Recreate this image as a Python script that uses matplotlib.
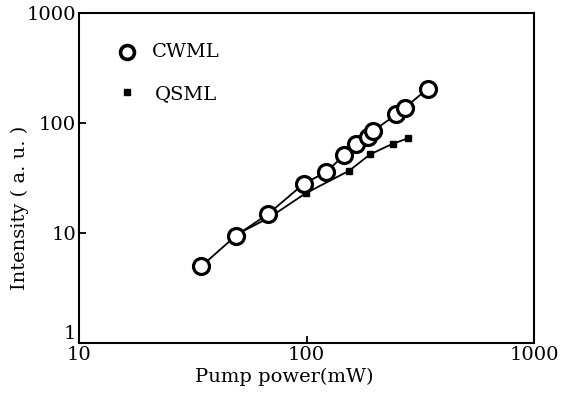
import matplotlib
matplotlib.use("Agg")
import matplotlib.pyplot as plt

# CWML (open circles) and QSML (small filled bars)
cwml_power = [34.5, 49, 68, 97, 122, 146, 165, 186, 196, 248, 270, 340]
cwml_int = [5.0, 9.5, 15, 28, 36, 51, 64, 75, 85, 120, 138, 205]

qsml_power = [49.6, 68.4, 99, 154, 190, 239, 280]
qsml_int = [9.8, 13.8, 23, 37, 52, 65, 73]

plt.rcParams.update({
    "font.family": "DejaVu Serif",
    "font.size": 14,
    "axes.linewidth": 1.5,
})

fig = plt.figure(figsize=(5.63, 3.99), dpi=100)
ax = fig.add_axes([0.140, 0.140, 0.809, 0.827])

ax.plot(qsml_power, qsml_int, color="black", lw=1.3,
        marker="s", markersize=4.5, markerfacecolor="black", zorder=2)
ax.plot(cwml_power, cwml_int, color="black", lw=1.3,
        marker="o", markersize=11.5, markerfacecolor="white",
        markeredgecolor="black", markeredgewidth=2.3, zorder=3)

ax.set_xscale("log")
ax.set_yscale("log")
ax.set_xlim(10, 1000)
ax.set_ylim(1, 1000)

ax.set_xticks([10, 100, 1000])
ax.set_xticklabels(["10", "100", "1000"])
ax.set_yticks([1, 10, 100, 1000])
ax.set_yticklabels(["1", "10", "100", "1000"])
ax.minorticks_off()
ax.tick_params(direction="in", length=5, width=1.3, pad=2)
ax.get_yticklabels()[0].set_va("bottom")

ax.set_xlabel("Pump power(mW)", fontsize=14)
ax.set_ylabel("Intensity ( a. u. )", fontsize=14)
ax.xaxis.set_label_coords(0.45, -0.075)
ax.yaxis.set_label_coords(-0.11, 0.41)

# legend drawn by hand like in the original figure
ax.plot([0.105], [0.882], transform=ax.transAxes, marker="o", markersize=10,
        markerfacecolor="white", markeredgecolor="black", markeredgewidth=2.6,
        linestyle="none", clip_on=False)
ax.text(0.16, 0.882, "CWML", transform=ax.transAxes, va="center", fontsize=14)
ax.plot([0.105], [0.76], transform=ax.transAxes, marker="s", markersize=5,
        color="black", linestyle="none", clip_on=False)
ax.text(0.167, 0.755, "QSML", transform=ax.transAxes, va="center", fontsize=14)

fig.savefig("out.png", dpi=100)
